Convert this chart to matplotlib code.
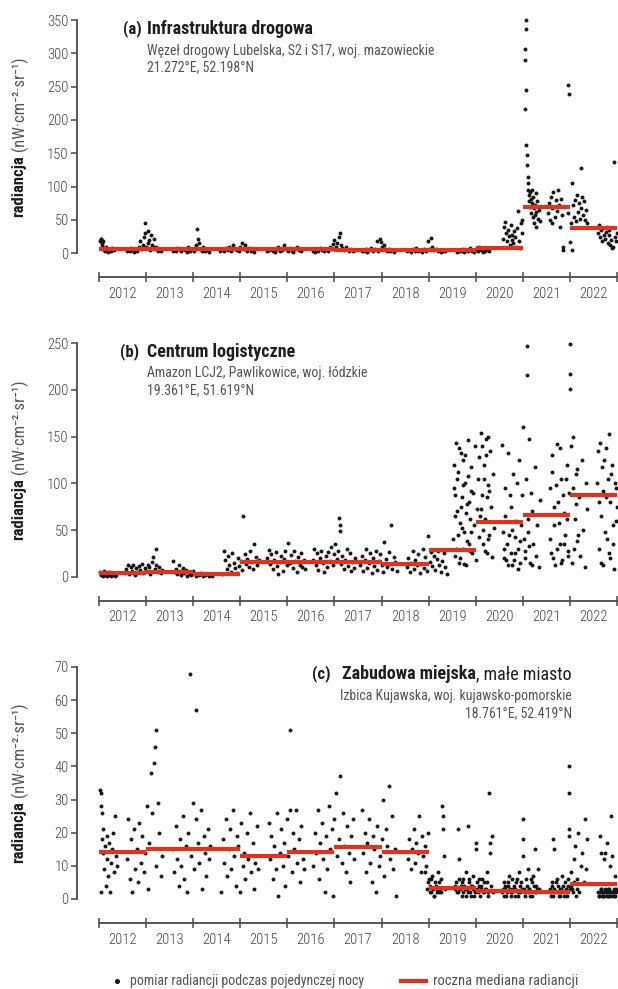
import matplotlib
matplotlib.use("Agg")
import matplotlib.pyplot as plt
from matplotlib import font_manager
from matplotlib.lines import Line2D
import numpy as np

names = {f.name for f in font_manager.fontManager.ttflist}
FONT = "DejaVu Sans"
for cand in ["Roboto Condensed", "Liberation Sans Narrow", "Roboto"]:
    if cand in names:
        FONT = cand
        break
plt.rcParams['font.family'] = [FONT, 'DejaVu Sans']

# ---------------- data ----------------
years = list(range(2012, 2023))
year_labels = [str(y) for y in years]

a_dates = [
    2012.03, 2012.04, 2012.05, 2012.06, 2012.07, 2012.08, 2012.09, 2012.10, 2012.12, 2012.14, 2012.16, 2012.19, 2012.22, 2012.25, 2012.28, 2012.31,
    2012.60, 2012.63, 2012.66, 2012.69, 2012.72, 2012.75, 2012.78, 2012.81, 2012.84, 2012.87, 2012.90, 2012.93, 2012.95, 2012.97, 2012.98, 2012.99,
    2013.01, 2013.03, 2013.05, 2013.07, 2013.09, 2013.11, 2013.13, 2013.15, 2013.17, 2013.19, 2013.22, 2013.25, 2013.28, 2013.31,
    2013.57, 2013.60, 2013.63, 2013.66, 2013.70, 2013.74, 2013.78, 2013.82, 2013.86, 2013.90, 2013.94, 2013.98,
    2014.01, 2014.04, 2014.07, 2014.09, 2014.10, 2014.12, 2014.15, 2014.18, 2014.21, 2014.25, 2014.29, 2014.33,
    2014.57, 2014.61, 2014.65, 2014.69, 2014.73, 2014.77, 2014.81, 2014.85, 2014.89, 2014.93, 2014.97,
    2015.00, 2015.03, 2015.07, 2015.11, 2015.15, 2015.19, 2015.23, 2015.27, 2015.30,
    2015.57, 2015.61, 2015.65, 2015.69, 2015.73, 2015.77, 2015.81, 2015.85, 2015.89, 2015.93, 2015.97,
    2016.01, 2016.05, 2016.09, 2016.13, 2016.17, 2016.21, 2016.25, 2016.29, 2016.32,
    2016.54, 2016.58, 2016.62, 2016.66, 2016.70, 2016.74, 2016.78, 2016.82, 2016.86, 2016.90, 2016.94, 2016.97,
    2017.00, 2017.03, 2017.06, 2017.09, 2017.12, 2017.14, 2017.17, 2017.21, 2017.25, 2017.30, 2017.35, 2017.40, 2017.44,
    2017.58, 2017.62, 2017.66, 2017.70, 2017.74, 2017.78, 2017.82, 2017.86, 2017.90, 2017.93, 2017.96, 2017.99,
    2018.02, 2018.05, 2018.08, 2018.11, 2018.15, 2018.19, 2018.23, 2018.27,
    2018.54, 2018.58, 2018.62, 2018.66, 2018.70, 2018.74, 2018.78, 2018.82, 2018.86, 2018.90, 2018.94, 2018.98,
    2019.01, 2019.04, 2019.07, 2019.11, 2019.15, 2019.19, 2019.23, 2019.27, 2019.31, 2019.35,
    2019.60, 2019.64, 2019.68, 2019.72, 2019.76, 2019.80, 2019.84, 2019.88, 2019.92, 2019.96,
    2020.00, 2020.04, 2020.08, 2020.12, 2020.16, 2020.20, 2020.24, 2020.28,
    2020.58, 2020.60, 2020.62, 2020.64, 2020.66, 2020.68, 2020.70, 2020.72, 2020.74, 2020.76, 2020.78,
    2020.80, 2020.82, 2020.84, 2020.86, 2020.88, 2020.90, 2020.92, 2020.94, 2020.96, 2020.98, 2020.99,
    2021.04, 2021.05, 2021.05, 2021.06, 2021.06, 2021.07, 2021.07, 2021.08, 2021.09, 2021.10,
    2021.11, 2021.12, 2021.13, 2021.14, 2021.15, 2021.16, 2021.17, 2021.18, 2021.19, 2021.20,
    2021.21, 2021.22, 2021.23, 2021.24, 2021.25, 2021.26, 2021.27, 2021.28, 2021.29, 2021.30,
    2021.32, 2021.34, 2021.36,
    2021.53, 2021.55, 2021.57, 2021.59, 2021.61, 2021.63, 2021.65, 2021.67, 2021.69, 2021.71, 2021.73, 2021.75,
    2021.77, 2021.79, 2021.81, 2021.83, 2021.85, 2021.86,
    2021.96, 2021.97, 2021.98,
    2022.00, 2022.02, 2022.04, 2022.05, 2022.07, 2022.09, 2022.11, 2022.13, 2022.15, 2022.17, 2022.19, 2022.21,
    2022.23, 2022.24, 2022.26, 2022.28, 2022.30, 2022.32, 2022.34, 2022.36,
    2022.60, 2022.62, 2022.64, 2022.66, 2022.68, 2022.70, 2022.72, 2022.74, 2022.76, 2022.78, 2022.80, 2022.82,
    2022.84, 2022.86, 2022.88, 2022.90, 2022.92, 2022.93, 2022.95, 2022.97, 2022.99,
]
a_values = [
    19, 22, 21, 15, 12, 18, 8, 5, 3, 9, 4, 2, 6, 3, 8, 5,
    4, 6, 3, 8, 5, 2, 7, 4, 9, 18, 6, 12, 25, 45, 30, 10,
    8, 34, 15, 20, 5, 28, 12, 9, 22, 6, 10, 4, 7, 3,
    3, 5, 4, 8, 6, 3, 7, 5, 2, 9, 4, 6,
    3, 8, 12, 37, 22, 15, 6, 4, 9, 3, 5, 2,
    4, 6, 3, 8, 5, 10, 4, 13, 7, 5, 3,
    9, 16, 6, 12, 4, 8, 3, 5, 2,
    3, 5, 7, 4, 2, 6, 9, 4, 5, 12, 6,
    3, 8, 4, 2, 7, 10, 5, 3, 6,
    4, 2, 6, 3, 8, 5, 4, 7, 3, 10, 6, 14,
    20, 9, 16, 24, 30, 12, 8, 5, 9, 4, 6, 3, 5,
    4, 3, 6, 2, 5, 8, 3, 6, 19, 4, 22, 17,
    9, 12, 6, 4, 7, 3, 5, 2,
    3, 5, 2, 6, 4, 8, 3, 5, 2, 7, 4, 18,
    6, 23, 9, 5, 7, 3, 5, 2, 4, 3,
    2, 4, 3, 6, 2, 5, 3, 8, 4, 2,
    6, 3, 9, 5, 2, 4, 7, 3,
    22, 40, 47, 30, 18, 35, 26, 12, 42, 28, 20,
    15, 33, 25, 10, 38, 64, 18, 8, 45, 30, 50,
    216, 306, 290, 350, 245, 336, 163, 133, 148, 115,
    95, 105, 88, 78, 92, 70, 82, 60, 95, 75,
    55, 85, 68, 45, 72, 58, 90, 62, 40, 78,
    52, 65, 48,
    60, 75, 50, 85, 68, 45, 92, 70, 55, 80, 63, 95,
    72, 40, 82, 58, 10, 5,
    60, 253, 239,
    17, 45, 106, 5, 72, 55, 80, 48, 87, 62, 75, 52,
    68, 128, 85, 58, 78, 50, 65, 45,
    30, 42, 25, 35, 18, 38, 28, 22, 32, 40, 15, 27,
    35, 12, 20, 8, 10, 137, 25, 18, 30,
]
a_medians = [6, 6, 6, 6, 6, 5.5, 5.5, 5.5, 8.5, 70, 38]

b_dates = [
    2012.02, 2012.04, 2012.06, 2012.08, 2012.10, 2012.12, 2012.14, 2012.16, 2012.18, 2012.20, 2012.22, 2012.25, 2012.28, 2012.31, 2012.34, 2012.37,
    2012.55, 2012.58, 2012.61, 2012.64, 2012.67, 2012.70, 2012.73, 2012.76, 2012.79, 2012.82, 2012.85, 2012.88, 2012.91, 2012.94, 2012.97,
    2013.00, 2013.03, 2013.06, 2013.09, 2013.12, 2013.15, 2013.18, 2013.21, 2013.22, 2013.25, 2013.28, 2013.31, 2013.34,
    2013.57, 2013.60, 2013.63, 2013.66, 2013.69, 2013.72, 2013.75, 2013.78, 2013.81, 2013.84, 2013.87, 2013.90, 2013.93, 2013.96,
    2014.00, 2014.05, 2014.09, 2014.13, 2014.17, 2014.21, 2014.25, 2014.29, 2014.33, 2014.37, 2014.41,
    2014.62, 2014.65, 2014.68, 2014.71, 2014.74, 2014.77, 2014.80, 2014.83, 2014.86, 2014.89, 2014.92, 2014.95, 2014.98,
    2015.01, 2015.04, 2015.06, 2015.09, 2015.12, 2015.15, 2015.18, 2015.21, 2015.24, 2015.27, 2015.30, 2015.33, 2015.36, 2015.40,
    2015.57, 2015.60, 2015.63, 2015.66, 2015.69, 2015.72, 2015.75, 2015.78, 2015.81, 2015.84, 2015.87, 2015.90, 2015.93, 2015.96, 2015.99,
    2016.02, 2016.05, 2016.08, 2016.11, 2016.14, 2016.17, 2016.20, 2016.23, 2016.26, 2016.29, 2016.32, 2016.35, 2016.38,
    2016.54, 2016.57, 2016.60, 2016.63, 2016.66, 2016.69, 2016.72, 2016.75, 2016.78, 2016.81, 2016.84, 2016.87, 2016.90, 2016.93, 2016.96, 2016.99,
    2017.02, 2017.05, 2017.08, 2017.10, 2017.11, 2017.12, 2017.14, 2017.17, 2017.20, 2017.23, 2017.26, 2017.29, 2017.32, 2017.35, 2017.38, 2017.41, 2017.44,
    2017.55, 2017.58, 2017.61, 2017.64, 2017.67, 2017.70, 2017.73, 2017.76, 2017.79, 2017.82, 2017.85, 2017.88, 2017.91, 2017.94, 2017.97,
    2018.00, 2018.03, 2018.06, 2018.09, 2018.12, 2018.15, 2018.18, 2018.20, 2018.23, 2018.26, 2018.29, 2018.32,
    2018.54, 2018.57, 2018.60, 2018.63, 2018.66, 2018.69, 2018.72, 2018.75, 2018.78, 2018.81, 2018.84, 2018.87, 2018.90, 2018.93, 2018.96, 2018.99,
    2019.02, 2019.05, 2019.08, 2019.11, 2019.14, 2019.17, 2019.20, 2019.23, 2019.26, 2019.29, 2019.32, 2019.35, 2019.38,
    2019.52, 2019.54, 2019.56, 2019.58, 2019.60, 2019.62, 2019.64, 2019.66, 2019.68, 2019.70, 2019.72, 2019.74,
    2019.76, 2019.78, 2019.80, 2019.82, 2019.84, 2019.86, 2019.88, 2019.90, 2019.92, 2019.94, 2019.96, 2019.98,
    2020.00, 2020.02, 2020.04, 2020.06, 2020.08, 2020.10,
    2020.12, 2020.14, 2020.16, 2020.18, 2020.20, 2020.22, 2020.24, 2020.26, 2020.28, 2020.30, 2020.32, 2020.34, 2020.36, 2020.38,
    2020.56, 2020.59, 2020.62, 2020.65, 2020.68, 2020.71, 2020.74, 2020.77, 2020.80, 2020.83, 2020.86, 2020.89, 2020.92, 2020.95, 2020.98,
    2021.01, 2021.04, 2021.07, 2021.09, 2021.09, 2021.10, 2021.13, 2021.16, 2021.19, 2021.22, 2021.25, 2021.28, 2021.31, 2021.34, 2021.36,
    2021.57, 2021.60, 2021.63, 2021.66, 2021.69, 2021.72, 2021.75, 2021.78, 2021.81, 2021.84, 2021.87, 2021.90, 2021.93, 2021.96, 2021.99,
    2022.00, 2022.00, 2022.01, 2022.04, 2022.07, 2022.10, 2022.13, 2022.16, 2022.19, 2022.22, 2022.25, 2022.28, 2022.31, 2022.34, 2022.36,
    2022.58, 2022.61, 2022.64, 2022.67, 2022.70, 2022.73, 2022.76, 2022.79, 2022.82, 2022.85, 2022.88, 2022.91, 2022.94, 2022.97, 2022.99,
    # additional nights 2019-2022
    2019.53, 2019.55, 2019.57, 2019.59, 2019.61, 2019.63, 2019.65, 2019.67, 2019.69, 2019.71,
    2019.73, 2019.75, 2019.77, 2019.79, 2019.81, 2019.83, 2019.85, 2019.87, 2019.89, 2019.91,
    2020.11, 2020.13, 2020.15, 2020.17, 2020.19, 2020.21, 2020.23, 2020.25, 2020.27, 2020.29,
    2020.57, 2020.60, 2020.63, 2020.66, 2020.69, 2020.72, 2020.75, 2020.78, 2020.81, 2020.84,
    2020.87, 2020.90, 2020.93, 2020.96, 2021.02, 2021.05, 2021.11, 2021.14, 2021.17, 2021.20,
    2021.58, 2021.61, 2021.64, 2021.67, 2021.70, 2021.73, 2021.76, 2021.79, 2021.82, 2021.85,
    2021.88, 2021.91, 2021.94, 2021.97, 2022.03, 2022.06, 2022.09, 2022.12, 2022.15, 2022.18,
    2022.59, 2022.62, 2022.65, 2022.68, 2022.71, 2022.74, 2022.77, 2022.80, 2022.83, 2022.86,
    2022.89, 2022.92, 2022.95, 2022.98,
]
b_values = [
    5, 2, 3, 1, 6, 2, 4, 1, 3, 2, 5, 1, 2, 3, 1, 2,
    4, 8, 13, 3, 10, 6, 12, 2, 9, 5, 11, 7, 14, 4, 9,
    6, 13, 10, 3, 16, 21, 8, 12, 30, 5, 10, 4, 7,
    17, 5, 8, 3, 12, 6, 2, 9, 4, 7, 1, 5, 3, 2,
    6, 1, 3, 2, 4, 1, 2, 3, 1, 2, 1,
    3, 27, 18, 8, 22, 12, 5, 25, 15, 9, 4, 20, 11,
    17, 7, 65, 24, 14, 19, 10, 28, 16, 8, 35, 21, 13, 18,
    20, 29, 14, 24, 8, 18, 26, 11, 3, 16, 22, 6, 19, 27, 12,
    36, 15, 23, 9, 28, 17, 5, 21, 13, 25, 10, 18, 8,
    18, 30, 12, 25, 7, 20, 28, 15, 5, 22, 10, 26, 17, 32, 13, 24,
    35, 19, 27, 63, 55, 49, 14, 22, 8, 18, 30, 11, 25, 6, 16, 9, 20,
    12, 22, 6, 18, 30, 9, 15, 25, 4, 20, 11, 28, 7, 17, 24,
    13, 5, 37, 19, 10, 26, 14, 55, 8, 21, 16, 6,
    10, 20, 5, 15, 27, 8, 18, 12, 24, 4, 14, 30, 9, 21, 6, 44,
    16, 26, 11, 22, 7, 19, 28, 13, 5, 17, 25, 10, 3,
    40, 95, 22, 143, 70, 112, 15, 58, 133, 85, 30, 125,
    48, 100, 12, 78, 146, 35, 62, 118, 25, 90, 55, 140,
    18, 72, 105, 42, 128, 65,
    154, 88, 35, 120, 62, 147, 25, 98, 45, 135, 75, 21, 110, 52,
    141, 30, 95, 18, 133, 45, 75, 12, 110, 25, 60, 8, 125, 38, 88,
    160, 20, 105, 247, 216, 48, 148, 15, 70, 35, 118, 22, 55, 10, 82,
    95, 25, 130, 55, 12, 142, 80, 35, 105, 18, 68, 45, 120, 28, 90,
    249, 217, 201, 15, 150, 62, 110, 38, 85, 22, 125, 50, 10, 100, 72,
    100, 30, 143, 65, 12, 125, 85, 40, 153, 20, 110, 55, 8, 95, 75,
    # additional nights 2019-2022
    120, 65, 88, 30, 105, 45, 138, 20, 75, 52,
    98, 14, 130, 68, 38, 108, 80, 28, 92, 48,
    72, 140, 50, 105, 28, 130, 85, 150, 40, 92,
    48, 20, 65, 35, 12, 88, 25, 50, 18, 42,
    100, 30, 15, 55, 40, 28, 62, 33, 90, 12,
    40, 112, 20, 75, 98, 30, 58, 138, 15, 88,
    35, 105, 62, 22, 140, 95, 30, 78, 115, 45,
    135, 80, 15, 118, 92, 48, 138, 105, 25, 80,
    120, 35, 100, 60,
]
b_medians = [4.3, 5.2, 2.9, 16, 16, 16, 13.6, 28.5, 59, 66, 87.5]

c_dates = [
    2012.03, 2012.04, 2012.04, 2012.05, 2012.06, 2012.07, 2012.08, 2012.09, 2012.10, 2012.12, 2012.14, 2012.16,
    2012.18, 2012.20, 2012.22, 2012.24, 2012.26, 2012.28, 2012.30, 2012.32, 2012.34, 2012.36, 2012.38,
    2012.59, 2012.62, 2012.65, 2012.68, 2012.71, 2012.74, 2012.77, 2012.80, 2012.83, 2012.86, 2012.89, 2012.92, 2012.95, 2012.98,
    2013.01, 2013.04, 2013.07, 2013.10, 2013.13, 2013.16, 2013.18, 2013.20, 2013.22, 2013.25, 2013.28, 2013.31, 2013.34,
    2013.57, 2013.60, 2013.63, 2013.66, 2013.69, 2013.72, 2013.75, 2013.78, 2013.81, 2013.84, 2013.87, 2013.90, 2013.93, 2013.96, 2013.99,
    2014.02, 2014.05, 2014.07, 2014.10, 2014.13, 2014.16, 2014.19, 2014.22, 2014.25, 2014.28, 2014.31, 2014.34, 2014.36,
    2014.60, 2014.63, 2014.66, 2014.69, 2014.72, 2014.75, 2014.78, 2014.81, 2014.84, 2014.87, 2014.90, 2014.93, 2014.96, 2014.99,
    2015.02, 2015.05, 2015.08, 2015.11, 2015.14, 2015.17, 2015.20, 2015.23, 2015.26, 2015.29, 2015.32, 2015.35, 2015.38,
    2015.60, 2015.63, 2015.66, 2015.69, 2015.72, 2015.75, 2015.78, 2015.81, 2015.84, 2015.87, 2015.90, 2015.93, 2015.96, 2015.99,
    2016.02, 2016.05, 2016.06, 2016.09, 2016.12, 2016.15, 2016.18, 2016.21, 2016.24, 2016.27, 2016.30, 2016.33, 2016.36,
    2016.55, 2016.58, 2016.61, 2016.64, 2016.67, 2016.70, 2016.73, 2016.76, 2016.79, 2016.82, 2016.85, 2016.88, 2016.91, 2016.94, 2016.97,
    2017.00, 2017.03, 2017.06, 2017.09, 2017.12, 2017.15, 2017.18, 2017.21, 2017.24, 2017.27, 2017.30, 2017.33, 2017.36, 2017.39, 2017.42,
    2017.58, 2017.61, 2017.64, 2017.67, 2017.70, 2017.73, 2017.76, 2017.79, 2017.82, 2017.85, 2017.88, 2017.91, 2017.94, 2017.97,
    2018.00, 2018.03, 2018.06, 2018.09, 2018.12, 2018.16, 2018.19, 2018.22, 2018.25, 2018.28, 2018.31,
    2018.56, 2018.59, 2018.62, 2018.65, 2018.68, 2018.71, 2018.74, 2018.77, 2018.80, 2018.83, 2018.86, 2018.89, 2018.92, 2018.95, 2018.98,
    2019.00,
    2019.02, 2019.05, 2019.08, 2019.11, 2019.14, 2019.17, 2019.20, 2019.23, 2019.26, 2019.29, 2019.30, 2019.31, 2019.32, 2019.34,
    2019.56, 2019.59, 2019.62, 2019.63, 2019.65, 2019.68, 2019.71, 2019.74, 2019.77, 2019.80, 2019.83, 2019.84, 2019.86, 2019.89, 2019.92, 2019.95, 2019.98,
    2020.00, 2020.00, 2020.03, 2020.06, 2020.09, 2020.12, 2020.15, 2020.18, 2020.21, 2020.24, 2020.27, 2020.29, 2020.30, 2020.31, 2020.33, 2020.34, 2020.36,
    2020.56, 2020.59, 2020.62, 2020.65, 2020.68, 2020.71, 2020.74, 2020.77, 2020.80, 2020.83, 2020.86, 2020.89, 2020.92, 2020.95, 2020.98,
    2021.00, 2021.00, 2021.01, 2021.04, 2021.07, 2021.10, 2021.13, 2021.16, 2021.19, 2021.22, 2021.25, 2021.26, 2021.29, 2021.32, 2021.35,
    2021.57, 2021.60, 2021.63, 2021.65, 2021.66, 2021.69, 2021.72, 2021.75, 2021.78, 2021.81, 2021.84, 2021.87, 2021.90, 2021.93, 2021.96,
    2021.99, 2021.99, 2021.99, 2021.99,
    2022.02, 2022.05, 2022.08, 2022.11, 2022.14, 2022.17, 2022.20, 2022.23, 2022.26, 2022.29, 2022.32, 2022.34, 2022.36,
    2022.60, 2022.62, 2022.63, 2022.65, 2022.67, 2022.69, 2022.71, 2022.73, 2022.75, 2022.77, 2022.79, 2022.81,
    2022.83, 2022.85, 2022.87, 2022.88, 2022.90, 2022.92, 2022.94, 2022.96, 2022.98,
    # additional nights 2019-2022
    2018.93, 2018.96, 2018.99, 2019.03, 2019.06, 2019.09, 2019.12, 2019.15, 2019.18, 2019.21, 2019.24, 2019.27,
    2019.57, 2019.60, 2019.64, 2019.67, 2019.70, 2019.73, 2019.76, 2019.79, 2019.82, 2019.85, 2019.88, 2019.91, 2019.94, 2019.97,
    2020.02, 2020.05, 2020.08, 2020.11, 2020.14, 2020.17, 2020.20, 2020.23, 2020.26,
    2020.57, 2020.60, 2020.63, 2020.66, 2020.69, 2020.72, 2020.75, 2020.78, 2020.81, 2020.84, 2020.87, 2020.90, 2020.93, 2020.96,
    2021.02, 2021.05, 2021.08, 2021.11, 2021.14, 2021.17, 2021.20, 2021.23, 2021.28, 2021.31,
    2021.58, 2021.61, 2021.64, 2021.67, 2021.70, 2021.73, 2021.76, 2021.79, 2021.82, 2021.85,
    2021.88, 2021.91, 2021.94, 2021.97, 2022.00, 2022.03, 2022.06, 2022.09, 2022.12, 2022.15,
    2022.61, 2022.64, 2022.66, 2022.68, 2022.70, 2022.72, 2022.74, 2022.76, 2022.78,
    2022.80, 2022.82, 2022.84, 2022.86, 2022.89, 2022.91, 2022.93, 2022.95, 2022.97,
]
c_values = [
    33, 2, 32, 28, 26, 18, 14, 21, 9, 16, 4, 19,
    12, 7, 17, 2, 11, 15, 20, 8, 25, 13, 10,
    12, 24, 6, 18, 2, 21, 9, 15, 5, 23, 11, 19, 8, 14,
    28, 3, 17, 38, 26, 41, 46, 51, 10, 29, 20, 7, 13,
    15, 8, 22, 12, 4, 18, 10, 25, 6, 16, 2, 20, 68, 13, 29,
    9, 24, 57, 17, 11, 27, 3, 19, 14, 7, 21, 12, 16,
    2, 18, 11, 24, 7, 15, 21, 9, 27, 13, 4, 19, 16, 2,
    23, 10, 14, 6, 20, 12, 26, 8, 17, 3, 11, 22, 9,
    23, 12, 19, 6, 16, 9, 26, 1, 14, 21, 10, 17, 4, 24,
    13, 27, 51, 8, 20, 15, 27, 11, 18, 5, 22, 12, 9,
    10, 20, 14, 27, 6, 17, 23, 12, 2, 19, 9, 28, 15, 21, 1,
    24, 32, 13, 18, 37, 11, 26, 16, 8, 22, 14, 5, 19, 24, 12,
    27, 14, 20, 8, 17, 24, 11, 5, 19, 15, 2, 22, 10, 13,
    18, 30, 7, 21, 16, 34, 12, 25, 9, 15, 1,
    12, 18, 9, 15, 21, 11, 17, 14, 25, 8, 19, 13, 16, 10, 20,
    6,
    4, 2, 7, 1, 5, 3, 8, 2, 6, 28, 25, 21, 13, 3,
    3, 5, 2, 21, 12, 4, 1, 6, 3, 8, 2, 22, 5, 1, 4, 7, 2,
    17, 15, 3, 6, 1, 4, 2, 5, 3, 8, 2, 32, 17, 14, 4, 19, 2,
    2, 5, 3, 1, 4, 7, 2, 6, 3, 1, 5, 2, 8, 4, 3,
    24, 18, 13, 2, 6, 9, 3, 1, 5, 7, 2, 15, 4, 9, 3,
    3, 1, 5, 18, 15, 2, 6, 4, 1, 3, 7, 2, 5, 1, 4,
    40, 32, 21, 19,
    8, 3, 12, 16, 6, 20, 2, 10, 14, 5, 24, 9, 18,
    2, 1, 19, 3, 14, 2, 1, 12, 14, 2, 17, 3,
    1, 10, 2, 25, 13, 2, 1, 7, 3,
    # additional nights 2019-2022
    8, 3, 5, 2, 6, 3, 1, 4, 2, 5, 3, 2,
    4, 2, 6, 3, 5, 2, 4, 1, 3, 6, 2, 4, 3, 1,
    5, 2, 4, 3, 6, 2, 3, 5, 1,
    3, 1, 4, 2, 5, 3, 1, 2, 4, 3, 6, 1, 2, 5,
    3, 1, 4, 2, 3, 6, 1, 4, 2, 3,
    2, 4, 1, 3, 5, 2, 1, 3, 2, 4,
    1, 3, 2, 6, 3, 4, 2, 5, 1, 3,
    1, 2, 3, 1, 2, 1, 3, 2, 1,
    2, 1, 3, 2, 1, 2, 3, 1, 2,
]
c_medians = [14.3, 15.1, 15, 13, 14.3, 15.8, 14.1, 3.4, 2.5, 2.2, 4.5]

# ---------------- layout helpers ----------------
W, H = 618, 989
fig = plt.figure(figsize=(W / 100, H / 100), dpi=100)


def fx(px):
    return px / W


def fy(py):
    return 1 - py / H


TICK_C = '#444444'
SPINE_C = '#4a4a4a'
DOT_C = '#161616'
RED = '#e2311d'
PX = 0.72  # points per pixel


def make_panel(top_px, bottom_px, dates, values, medians, ymax, ystep):
    ax = fig.add_axes([fx(99), fy(bottom_px), fx(617) - fx(99), (bottom_px - top_px) / H])
    ax.set_xlim(2012, 2023)
    ax.set_ylim(0, ymax)
    for s in ['top', 'right']:
        ax.spines[s].set_visible(False)
    ax.spines['left'].set_position(('outward', 22 * PX))
    ax.spines['bottom'].set_position(('outward', 24 * PX))
    ax.spines['left'].set_bounds(0, ymax)
    ax.spines['bottom'].set_bounds(2012, 2023)
    for s in ['left', 'bottom']:
        ax.spines[s].set_color(SPINE_C)
        ax.spines[s].set_linewidth(1.3)
    ax.set_yticks(np.arange(0, ymax + 0.1, ystep))
    ax.set_yticklabels([str(int(v)) for v in np.arange(0, ymax + 0.1, ystep)])
    ax.tick_params(axis='y', direction='out', length=4, width=1.1, color=SPINE_C,
                   labelsize=10.5, labelcolor=TICK_C, pad=2)
    ax.set_xticks(years + [2023])
    ax.set_xticklabels([''] * 12)
    ax.set_xticks([y + 0.5 for y in years], minor=True)
    ax.set_xticklabels(year_labels, minor=True)
    ax.tick_params(axis='x', which='major', direction='inout', length=7, width=1.1, color=SPINE_C)
    ax.tick_params(axis='x', which='minor', length=0, labelsize=10.5, labelcolor=TICK_C, pad=7)
    for lab in ax.get_xticklabels(minor=True) + ax.get_yticklabels():
        lab.set_fontweight('light')
    ax.patch.set_visible(False)
    ax.scatter(dates, values, s=8, c=DOT_C, linewidths=0, clip_on=False, zorder=2)
    ax.hlines(medians, years, [y + 1 for y in years], colors=RED, linewidth=3.0,
              zorder=3, clip_on=False)
    return ax


ax_a = make_panel(20, 253.3, a_dates, a_values, a_medians, 350, 50)
ax_b = make_panel(343.3, 576.7, b_dates, b_values, b_medians, 250, 50)
ax_c = make_panel(667, 899, c_dates, c_values, c_medians, 70, 10)

TITLE_C = '#1e1e1e'
SUB_C = '#555555'
SUB_FS = 10

# panel a texts
fig.text(fx(123), fy(29), '(a)', fontsize=12, fontweight='bold', color=TITLE_C, va='center')
fig.text(fx(147), fy(29), 'Infrastruktura drogowa', fontsize=13, fontweight='bold', color=TITLE_C, va='center')
fig.text(fx(147), fy(51), 'Węzeł drogowy Lubelska, S2 i S17, woj. mazowieckie', fontsize=SUB_FS,
         color=SUB_C, va='center')
fig.text(fx(147), fy(67), '21.272°E, 52.198°N', fontsize=SUB_FS, color=SUB_C, va='center')

# panel b texts
fig.text(fx(120), fy(352), '(b)', fontsize=12, fontweight='bold', color=TITLE_C, va='center')
fig.text(fx(147), fy(352), 'Centrum logistyczne', fontsize=13, fontweight='bold', color=TITLE_C, va='center')
fig.text(fx(147), fy(373), 'Amazon LCJ2, Pawlikowice, woj. łódzkie', fontsize=SUB_FS,
         color=SUB_C, va='center')
fig.text(fx(147), fy(390), '19.361°E, 51.619°N', fontsize=SUB_FS, color=SUB_C, va='center')

# panel c texts (right aligned)
renderer = fig.canvas.get_renderer()
t_reg = fig.text(fx(572), fy(674), ', małe miasto', fontsize=13, color=TITLE_C, va='center', ha='right')
w_reg = t_reg.get_window_extent(renderer).width
t_bold = fig.text(fx(572) - w_reg / W, fy(674), 'Zabudowa miejska', fontsize=13, fontweight='bold',
                  color=TITLE_C, va='center', ha='right')
w_bold = t_bold.get_window_extent(renderer).width
fig.text(fx(572) - (w_reg + w_bold + 12) / W, fy(674), '(c)', fontsize=12, fontweight='bold',
         color=TITLE_C, va='center', ha='right')
fig.text(fx(572), fy(696), 'Izbica Kujawska, woj. kujawsko-pomorskie', fontsize=SUB_FS,
         color=SUB_C, va='center', ha='right')
fig.text(fx(572), fy(713), '18.761°E, 52.419°N', fontsize=SUB_FS,
         color=SUB_C, va='center', ha='right')

# y labels
for top, bot in [(20, 253.3), (343.3, 576.7), (667, 899)]:
    center = (top + bot) / 2
    t1 = fig.text(0, 0, 'radiancja', fontsize=12, fontweight='bold', color=TITLE_C,
                  rotation=90, rotation_mode='anchor', ha='left', va='center')
    t2 = fig.text(0, 0, '(nW·cm⁻²·sr⁻¹)', fontsize=12, color=SUB_C,
                  rotation=90, rotation_mode='anchor', ha='left', va='center')
    h1 = t1.get_window_extent(renderer).height
    h2 = t2.get_window_extent(renderer).height
    gap = 4
    total = h1 + gap + h2
    start_disp = (H - center) - total / 2
    t1.set_position((fx(19), start_disp / H))
    t2.set_position((fx(19), (start_disp + h1 + gap) / H))

# legend
fig.add_artist(Line2D([fx(117)], [fy(981)], marker='o', markersize=2.6, color=DOT_C,
                      linestyle='none', transform=fig.transFigure))
fig.text(fx(130), fy(981), 'pomiar radiancji podczas pojedynczej nocy', fontsize=10,
         color=SUB_C, va='center')
fig.add_artist(Line2D([fx(401), fx(426)], [fy(981), fy(981)], color=RED, linewidth=3.0,
                      transform=fig.transFigure))
fig.text(fx(433), fy(981), 'roczna mediana radiancji', fontsize=10.5,
         color=SUB_C, va='center')

fig.savefig('out.png', dpi=100)
